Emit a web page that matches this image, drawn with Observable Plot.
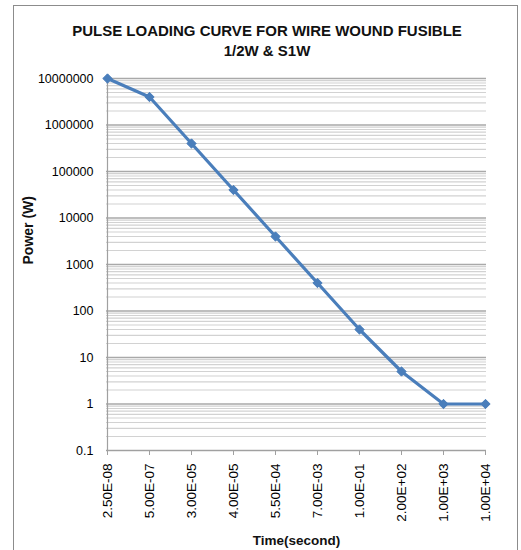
<!DOCTYPE html>
<html>
<head>
<meta charset="utf-8">
<script src="https://cdn.jsdelivr.net/npm/d3@7"></script>
<script src="https://cdn.jsdelivr.net/npm/@observablehq/plot@0.6"></script>
<style>
  html, body { margin: 0; padding: 0; background: #fff; overflow: hidden; }
  #wrap { position: relative; width: 521px; height: 550px; }
  #border { position: absolute; left: 13px; top: 5px; width: 503px; height: 600px; border: 1px solid #8c8c8c; pointer-events: none; }
</style>
</head>
<body>
<div id="wrap"><div id="border"></div></div>
<script>
// Data
const times = ["2.50E-08", "5.00E-07", "3.00E-05", "4.00E-05", "5.50E-04", "7.00E-03", "1.00E-01", "2.00E+02", "1.00E+03", "1.00E+04"];
const power = [10000000, 4000000, 400000, 40000, 4000, 400, 40, 5, 1, 1];
const yTicks = [0.1, 1, 10, 100, 1000, 10000, 100000, 1000000, 10000000];
const titleLines = ["PULSE LOADING CURVE FOR WIRE WOUND FUSIBLE", "1/2W & S1W"];
const xTitle = "Time(second)";
const yTitle = "Power (W)";

const data = times.map((t, i) => ({time: t, power: power[i]}));
const minorTicks = d3.scaleLog().domain([0.1, 1e7]).ticks().filter(v => !yTicks.some(t => Math.abs(t - v) / t < 1e-9));

const font = "'Liberation Sans', Arial, sans-serif";
const blue = "#4a7ebb";

const chart = Plot.plot({
  width: 521,
  height: 550,
  marginLeft: 106,
  marginRight: 35,
  marginTop: 78,
  marginBottom: 100,
  style: {fontFamily: font, fontSize: "12.5px", color: "#000", background: "transparent", overflow: "visible"},
  x: {type: "point", domain: times, padding: 0, label: null, axis: null},
  y: {type: "log", domain: [0.1, 1e7], label: null, axis: null},
  marks: [
    Plot.ruleY(minorTicks, {stroke: "#d2d2d2", strokeWidth: 1.2}),
    Plot.ruleY(yTicks, {stroke: "#a9a9a9", strokeWidth: 1.4}),
    Plot.ruleX([times[0]], {stroke: "#a0a0a0", strokeWidth: 1.2}),
    Plot.axisY({ticks: yTicks, tickFormat: d => String(d), tickSize: 0, tickPadding: 13, fontSize: 12.5, label: null}),
    Plot.axisX({tickRotate: -90, tickSize: 5, tickPadding: 8, fontSize: 13.5, stroke: "#a0a0a0", label: null}),
    Plot.ruleY([0.1], {stroke: "#a0a0a0", strokeWidth: 1.2}),
    Plot.line(data, {x: "time", y: "power", stroke: blue, strokeWidth: 3.2}),
    Plot.dot(data, {x: "time", y: "power", symbol: "diamond2", r: 4.2, fill: blue, stroke: blue, strokeWidth: 1}),
    Plot.text([titleLines.join("\n")], {frameAnchor: "top", lineAnchor: "middle", dx: -29.5, dy: -39, fontSize: 15, fontWeight: "bold", lineHeight: 1.37, fill: "#111"}),
    Plot.text([xTitle], {frameAnchor: "bottom", lineAnchor: "middle", dx: 0, dy: 90, fontSize: 13.5, fontWeight: "bold", fill: "#111"}),
    Plot.text([yTitle], {frameAnchor: "left", lineAnchor: "middle", rotate: -90, dx: -78, dy: 0, fontSize: 14, fontWeight: "bold", fill: "#111"})
  ]
});
document.getElementById("wrap").insertBefore(chart, document.getElementById("border"));
chart.style.position = "absolute";
chart.style.left = "0";
chart.style.top = "0";
</script>
</body>
</html>
